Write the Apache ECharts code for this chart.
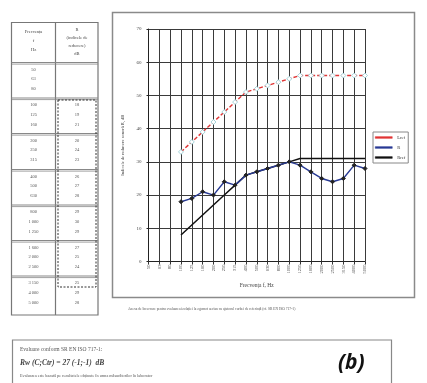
<!DOCTYPE html>
<html><head><meta charset="utf-8">
<script src="https://cdn.jsdelivr.net/npm/echarts@6/dist/echarts.min.js"></script>
<style>html,body{margin:0;padding:0;background:#fff}#c{width:427px;height:383px}</style>
</head><body><div id="c"></div>
<script>
var categories = ['50','63','80','100','125','160','200','250','315','400','500','630','800','1000','1250','1600','2000','2500','3150','4000','5000'];
var tableFreqLabels = ['50','63','80','100','125','160','200','250','315','400','500','630','800','1 000','1 250','1 600','2 000','2 500','3 150','4 000','5 000'];
var refCurve = [null,null,null,33,36,39,42,45,48,51,52,53,54,55,56,56,56,56,56,56,56];
var measuredR = [null,null,null,18,19,21,20,24,23,26,27,28,29,30,29,27,25,24,25,29,28];
var shiftedRef = [null,null,null,8,11,14,17,20,23,26,27,28,29,30,31,31,31,31,31,31,31];
var seriesNames = ['Lref','R','Rref'];

var chart = echarts.init(document.getElementById('c'));
var serif = 'Liberation Serif';

var g = [];
g.push({type:'rect', shape:{x:112.5,y:12.5,width:302,height:285}, style:{fill:'none',stroke:'#8a8a8a',lineWidth:1.5}, z:-1});
var tX0 = 11.5, tXm = 55.5, tX1 = 98, tY0 = 22.5, tY1 = 315;
g.push({type:'rect', shape:{x:tX0,y:tY0,width:tX1-tX0,height:tY1-tY0}, style:{fill:'none',stroke:'#777',lineWidth:1.2}});
g.push({type:'line', shape:{x1:tXm,y1:tY0,x2:tXm,y2:tY1}, style:{stroke:'#777',lineWidth:1.2}});
var groupTops = [62.5, 98, 133.5, 169.5, 205, 240.5, 276];
groupTops.forEach(function(y){
  g.push({type:'line', shape:{x1:tX0,y1:y,x2:tX1,y2:y}, style:{stroke:'#888',lineWidth:1}});
  g.push({type:'line', shape:{x1:tX0,y1:y+1.6,x2:tX1,y2:y+1.6}, style:{stroke:'#888',lineWidth:0.8}});
});
g.push({type:'text', style:{x:33.5,y:27,text:'Frecvența\nf\nHz',font:'4.5px '+serif,fill:'#444',align:'center',lineHeight:9}});
g.push({type:'text', style:{x:77,y:26,text:'R\n(indicele de\nreducere)\ndB',font:'4.5px '+serif,fill:'#444',align:'center',lineHeight:8}});
for (var i = 0; i < tableFreqLabels.length; i++) {
  var grp = Math.floor(i/3), k = i%3;
  var y = groupTops[grp] + 4.5 + k*9.8;
  g.push({type:'text', style:{x:33.5,y:y,text:tableFreqLabels[i],font:'4.5px '+serif,fill:'#555',align:'center'}});
  if (measuredR[i] !== null) {
    g.push({type:'text', style:{x:77,y:y,text:String(measuredR[i]),font:'4.5px '+serif,fill:'#555',align:'center'}});
  }
}
g.push({type:'rect', shape:{x:58,y:100,width:38,height:187}, style:{fill:'none',stroke:'#333',lineWidth:1,lineDash:[2,1.5]}});
g.push({type:'text', style:{x:128,y:307,text:'Anexa de încercare pentru evaluarea izolației la zgomot aerian cu ajutorul curbei de referință (cf. SR EN ISO 717-1)',font:'3.6px '+serif,fill:'#555'}});
g.push({type:'rect', shape:{x:12.5,y:340,width:379,height:60}, style:{fill:'#fff',stroke:'#888',lineWidth:1.2}});
g.push({type:'text', style:{x:20,y:347,text:'Evaluare conform SR EN ISO 717-1:',font:'5.5px '+serif,fill:'#555'}});
g.push({type:'text', style:{x:20,y:359,text:'Rw (C;Ctr) = 27 (-1;-1)  dB',font:'italic bold 7.5px '+serif,fill:'#444'}});
g.push({type:'text', style:{x:20,y:374,text:'Evaluarea este bazată pe rezultatele obținute în urma măsurătorilor în laborator',font:'4.2px '+serif,fill:'#555'}});
g.push({type:'text', style:{x:338,y:353,text:'(b)',font:'italic bold 21px "Open Sans"',fill:'#111'}});

var lineIcon = 'path://M0,0 L20,0 L20,2 L0,2 Z';
var legendColors = ['#e03535','#283a94','#111'];
var option = {
  backgroundColor:'#fff',
  animation:false,
  textStyle:{fontFamily:serif},
  grid:{left:148.5, right:62, top:29, bottom:121.5},
  legend:{
    orient:'vertical', left:373, top:132, itemWidth:17, itemHeight:2, itemGap:5,
    padding:[3,3,3,2], borderColor:'#888', borderWidth:1, backgroundColor:'#fff',
    textStyle:{fontSize:4.5, color:'#333', fontFamily:serif},
    data:seriesNames.map(function(n, idx){return {name:n, icon:lineIcon,
      itemStyle:{color:legendColors[idx], borderColor:legendColors[idx], borderWidth:0.5}};})
  },
  xAxis:{
    type:'category', data:categories, boundaryGap:false,
    name:'Frecvența f, Hz', nameLocation:'middle', nameGap:21,
    nameTextStyle:{fontSize:5.5, color:'#444', fontFamily:serif},
    axisLine:{lineStyle:{color:'#222', width:1}},
    axisTick:{show:true, length:3, lineStyle:{color:'#333'}},
    axisLabel:{rotate:90, fontSize:4.5, color:'#444', margin:3, interval:0},
    splitLine:{show:true, interval:0, lineStyle:{color:'#3a3a3a', width:1}}
  },
  yAxis:{
    type:'value', min:0, max:70, interval:10,
    name:'Indicele de reducere sonoră R, dB', nameLocation:'middle', nameGap:18,
    nameTextStyle:{fontSize:4.5, color:'#444', fontFamily:serif},
    axisLine:{show:true, lineStyle:{color:'#222', width:1}},
    axisTick:{show:true, length:2},
    axisLabel:{fontSize:5, color:'#444', margin:7},
    splitLine:{show:true, lineStyle:{color:'#3a3a3a', width:1.2}}
  },
  series:[
    {name:seriesNames[0], type:'line', data:refCurve, symbol:'diamond', symbolSize:5,
     showAllSymbol:true,
     lineStyle:{color:'#e03535', width:1.4, type:[4,2]},
     itemStyle:{color:'#fff', borderColor:'#8fc9d0', borderWidth:0.8}, z:3},
    {name:seriesNames[1], type:'line', data:measuredR, symbol:'diamond', symbolSize:4,
     showAllSymbol:true,
     lineStyle:{color:'#283a94', width:1.4},
     itemStyle:{color:'#222', borderColor:'#222'}, z:4},
    {name:seriesNames[2], type:'line', data:shiftedRef, symbol:'none',
     lineStyle:{color:'#111', width:1.5},
     itemStyle:{color:'#111'}, z:3}
  ],
  graphic:g
};
chart.setOption(option);
</script>
</body></html>
